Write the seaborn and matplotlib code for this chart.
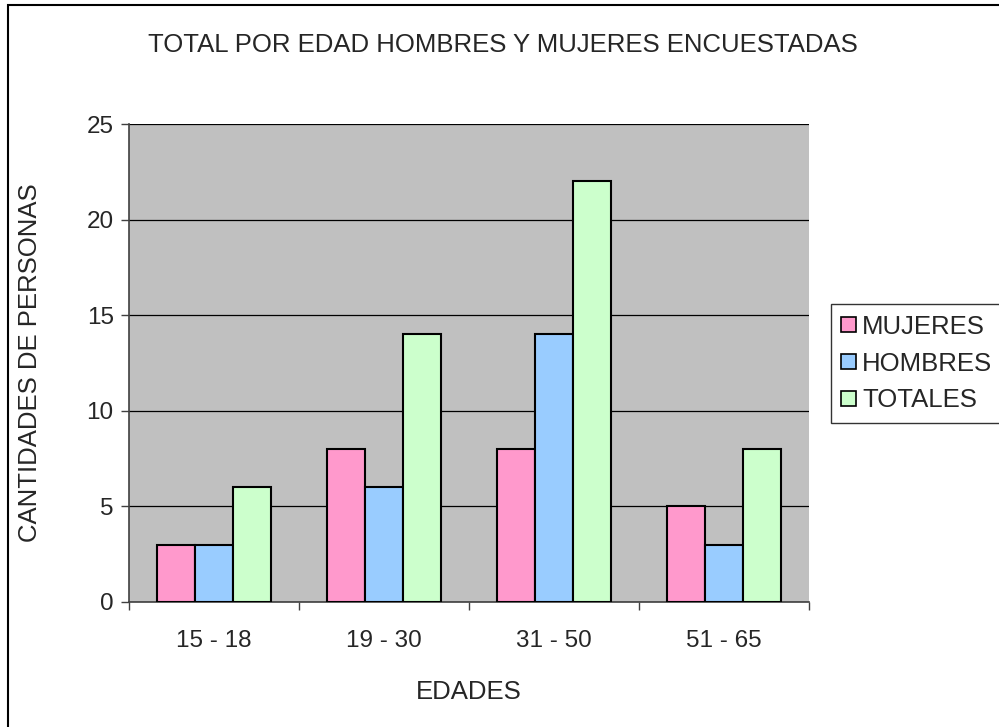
import matplotlib
matplotlib.use("Agg")
import matplotlib.pyplot as plt
import seaborn as sns
import pandas as pd
from matplotlib.patches import Rectangle, Patch

edades = ["15 - 18", "19 - 30", "31 - 50", "51 - 65"]
mujeres = [3, 8, 8, 5]
hombres = [3, 6, 14, 3]
totales = [6, 14, 22, 8]
series = ["MUJERES", "HOMBRES", "TOTALES"]
colores = ["#FF99CC", "#99CCFF", "#CCFFCC"]

df = pd.DataFrame({"EDADES": edades, "MUJERES": mujeres,
                   "HOMBRES": hombres, "TOTALES": totales})
df = df.melt(id_vars="EDADES", var_name="serie", value_name="valor")

sns.set_style("white")
plt.rcParams["font.family"] = ["Liberation Sans", "DejaVu Sans"]

fig = plt.figure(figsize=(9.99, 7.27), dpi=100)
ax = fig.add_axes([0.1291, 0.172, 0.6807, 0.6574])
ax.set_facecolor("#C0C0C0")

sns.barplot(data=df, x="EDADES", y="valor", hue="serie", hue_order=series,
            palette=colores, width=0.67, edgecolor="black", linewidth=1.5,
            saturation=1, ax=ax, legend=False, zorder=3)

ax.set_ylim(0, 25)
ax.set_xlim(-0.5, 3.5)
ax.set_yticks([0, 5, 10, 15, 20, 25])
ax.yaxis.grid(True, color="black", linewidth=0.9, zorder=0)
ax.set_axisbelow(True)
ax.tick_params(axis="y", which="major", direction="out", length=6, width=1,
               color="#404040", labelsize=17.5, pad=5, left=True)
ax.tick_params(axis="x", which="major", length=0, labelsize=17.5, pad=20)
ax.set_xticks([-0.5, 0.5, 1.5, 2.5, 3.5], minor=True)
ax.tick_params(axis="x", which="minor", direction="out", length=6, width=1,
               color="#404040", bottom=True)
for s in ["top", "right"]:
    ax.spines[s].set_visible(False)
for s in ["left", "bottom"]:
    ax.spines[s].set_color("#404040")
    ax.spines[s].set_linewidth(1.2)

ax.set_xlabel("EDADES", fontsize=18.5, labelpad=20)
ax.set_ylabel("CANTIDADES DE PERSONAS", fontsize=18.5, labelpad=32)
fig.text(0.503, 0.938, "TOTAL POR EDAD HOMBRES Y MUJERES ENCUESTADAS",
         ha="center", va="center", fontsize=18.5)

handles = [Patch(facecolor=c, edgecolor="black", linewidth=1.2) for c in colores]
leg = fig.legend(handles, series, loc="center left",
                 bbox_to_anchor=(0.832, 0.5), fontsize=18.5, frameon=True,
                 fancybox=False, edgecolor="black", handlelength=0.55,
                 handleheight=0.55, handletextpad=0.25, labelspacing=0.5,
                 borderpad=0.4, borderaxespad=0)
leg.get_frame().set_linewidth(1)

fig.patches.append(Rectangle((0.0085, -0.2), 1.2, 1.193, transform=fig.transFigure,
                             fill=False, edgecolor="black", linewidth=1.5))

fig.savefig("out.png", dpi=100)
